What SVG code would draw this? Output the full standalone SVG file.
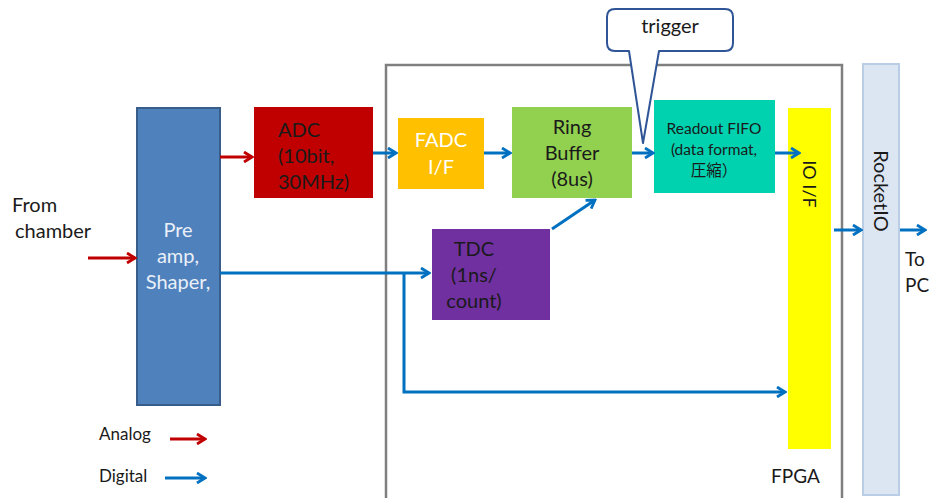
<svg xmlns="http://www.w3.org/2000/svg" width="933" height="498" viewBox="0 0 933 498">
<style>
.t{font-family:Lato,"Open Sans","Liberation Sans","Noto Sans CJK JP",sans-serif;font-size:20px;fill:#1a1a1a}
.c{text-anchor:middle}
.red{stroke:#C00000;stroke-width:3;fill:none}
.blue{stroke:#0070C0;stroke-width:3;fill:none}
</style>
<defs>
<marker id="ar" viewBox="0 0 12 12" refX="10" refY="6" markerWidth="12" markerHeight="12" markerUnits="userSpaceOnUse" orient="auto"><path d="M2,1 L10,6 L2,11" fill="none" stroke="#C00000" stroke-width="2.8"/></marker>
<marker id="ab" viewBox="0 0 12 12" refX="10" refY="6" markerWidth="12" markerHeight="12" markerUnits="userSpaceOnUse" orient="auto"><path d="M2,1 L10,6 L2,11" fill="none" stroke="#0070C0" stroke-width="2.8"/></marker>
</defs>
<rect width="933" height="498" fill="#fff"/>
<g id="fpga">
<rect x="386" y="65" width="456" height="440" fill="none" stroke="#7F7F7F" stroke-width="2.5"/>
<text class="t" x="771" y="483" style="font-size:19px">FPGA</text>
</g>
<g id="preamp">
<rect x="137" y="108" width="83" height="297" fill="#4F81BD" stroke="#385D8A" stroke-width="2"/>
<text class="t c" x="178" y="237" style="fill:#EAF0F8">Pre</text>
<text class="t c" x="178" y="263" style="fill:#EAF0F8">amp,</text>
<text class="t c" x="178" y="289" style="fill:#EAF0F8">Shaper,</text>
</g>
<g id="adc">
<rect x="254" y="107" width="119" height="91" fill="#C00000"/>
<text class="t" x="278" y="137">ADC</text>
<text class="t" x="278" y="163">(10bit,</text>
<text class="t" x="278" y="189">30MHz)</text>
</g>
<g id="fadc">
<rect x="398" y="118" width="86" height="71" fill="#FFC000"/>
<text class="t c" x="441" y="147" style="fill:#fff">FADC</text>
<text class="t c" x="441" y="174" style="fill:#fff">I/F</text>
</g>
<g id="ring">
<rect x="512" y="107" width="120" height="91" fill="#92D050"/>
<text class="t c" x="572" y="134">Ring</text>
<text class="t c" x="572" y="160">Buffer</text>
<text class="t c" x="572" y="186">(8us)</text>
</g>
<g id="fifo">
<rect x="654" y="100" width="121" height="93" fill="#00D2B0"/>
<text class="t c" x="714" y="134" style="font-size:15.5px">Readout FIFO</text>
<text class="t c" x="714" y="155" style="font-size:15.5px">(data format,</text>
<text class="t c" x="714" y="176" style="font-size:15.5px">圧縮）</text>
</g>
<g id="tdc">
<rect x="432" y="229" width="118" height="91" fill="#7030A0"/>
<text class="t c" x="474" y="256">TDC</text>
<text class="t c" x="474" y="282">(1ns/</text>
<text class="t c" x="474" y="308">count)</text>
</g>
<g id="ioif">
<rect x="788" y="108" width="43" height="341" fill="#FFFF00"/>
<text class="t c" transform="translate(803,184) rotate(90)" style="font-size:18px">IO I/F</text>
</g>
<g id="rocketio">
<rect x="863" y="64" width="36" height="431" fill="#DCE6F2" stroke="#B9CDE5" stroke-width="2"/>
<text class="t c" transform="translate(874,191) rotate(90)" style="font-size:20px">RocketIO</text>
</g>
<g id="trigger">
<path d="M615,9 H725 Q733,9 733,17 V43 Q733,51 725,51 H659 L643,143 L629,51 H615 Q607,51 607,43 V17 Q607,9 615,9 Z" fill="#fff" stroke="#2F5597" stroke-width="2" stroke-linejoin="round"/>
<text class="t c" x="670" y="33" style="font-size:20px">trigger</text>
</g>
<g id="labels">
<text class="t" x="12" y="212">From</text>
<text class="t" x="15" y="238">chamber</text>
<text class="t" x="905" y="266" style="font-size:19px">To</text>
<text class="t" x="905" y="292" style="font-size:19px">PC</text>
<text class="t" x="99" y="440" style="font-size:17px">Analog</text>
<text class="t" x="99" y="482" style="font-size:17px">Digital</text>
</g>
<g id="connectors">
<path class="red" d="M88,258 H135" marker-end="url(#ar)"/>
<path class="red" d="M220,157 H252" marker-end="url(#ar)"/>
<path class="red" d="M170,439 H205" marker-end="url(#ar)"/>
<path class="blue" d="M165,478 H205" marker-end="url(#ab)"/>
<path class="blue" d="M373,153 H396" marker-end="url(#ab)"/>
<path class="blue" d="M484,153 H510" marker-end="url(#ab)"/>
<path class="blue" d="M632,153 H653" marker-end="url(#ab)"/>
<path class="blue" d="M775,153 H799" marker-end="url(#ab)"/>
<path class="blue" d="M552,229 L595,200" marker-end="url(#ab)"/>
<path class="blue" d="M220,273 H429" marker-end="url(#ab)"/>
<path class="blue" d="M404,273 V392 H785" marker-end="url(#ab)"/>
<path class="blue" d="M834,230 H861" marker-end="url(#ab)"/>
<path class="blue" d="M900,230 H925" marker-end="url(#ab)"/>
</g>
</svg>
